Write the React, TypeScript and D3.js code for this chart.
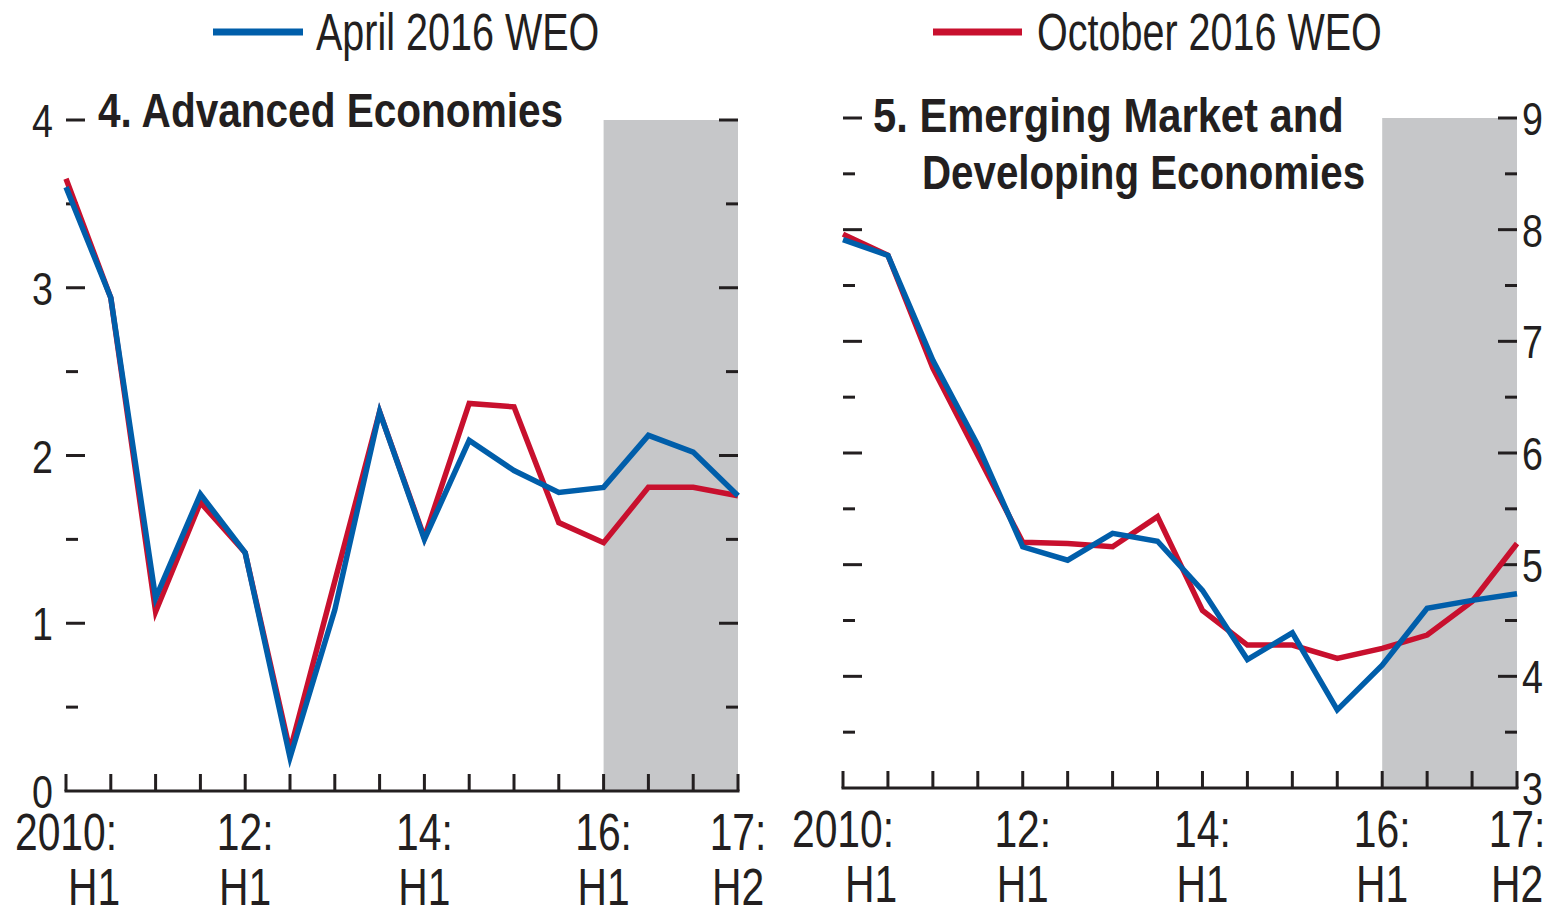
import React from "react";
import * as d3 from "d3";

const periods = [
  "2010:H1", "2010:H2", "2011:H1", "2011:H2", "2012:H1", "2012:H2", "2013:H1", "2013:H2",
  "2014:H1", "2014:H2", "2015:H1", "2015:H2", "2016:H1", "2016:H2", "2017:H1", "2017:H2",
];
const xLabels = [
  { i: 0, year: "2010:", half: "H1" },
  { i: 4, year: "12:", half: "H1" },
  { i: 8, year: "14:", half: "H1" },
  { i: 12, year: "16:", half: "H1" },
  { i: 15, year: "17:", half: "H2" },
];
const projectionStart = 12;

const advApril = [3.6, 2.94, 1.15, 1.77, 1.42, 0.2, 1.08, 2.26, 1.5, 2.09, 1.91, 1.78, 1.81, 2.12, 2.02, 1.76];
const advOctober = [3.65, 2.94, 1.07, 1.72, 1.42, 0.24, 1.25, 2.26, 1.51, 2.31, 2.29, 1.6, 1.48, 1.81, 1.81, 1.76];
const emdeApril = [7.91, 7.77, 6.83, 6.07, 5.16, 5.04, 5.28, 5.21, 4.77, 4.15, 4.39, 3.7, 4.1, 4.61, 4.68, 4.74];
const emdeOctober = [7.96, 7.77, 6.76, 5.98, 5.2, 5.19, 5.16, 5.43, 4.59, 4.28, 4.28, 4.16, 4.25, 4.37, 4.67, 5.19];

const advTicks = [0, 1, 2, 3, 4];
const emdeTicks = [3, 4, 5, 6, 7, 8, 9];

const legendItems = [
  { label: "April 2016 WEO", color: "#005EAA" },
  { label: "October 2016 WEO", color: "#C8102E" },
];

const FONT = "'Liberation Sans', Arial, sans-serif";
const INK = "#231f20";
const BLUE = "#005EAA";
const RED = "#C8102E";
const GRAY = "#C6C7C9";

type NTextProps = {
  x: number;
  y: number;
  size: number;
  anchor?: "start" | "middle" | "end";
  bold?: boolean;
  sx?: number;
  children: React.ReactNode;
};

function NText({ x, y, size, anchor = "start", bold = false, sx = 0.8, children }: NTextProps) {
  return (
    <text
      transform={`translate(${x},${y}) scale(${sx},1)`}
      textAnchor={anchor}
      fontFamily={FONT}
      fontWeight={bold ? "bold" : "normal"}
      fontSize={size}
      fill={INK}
    >
      {children}
    </text>
  );
}

type PanelProps = {
  x0: number;
  x1: number;
  yTop: number;
  yBottom: number;
  domain: [number, number];
  ticks: number[];
  labelSide: "left" | "right";
  april: number[];
  october: number[];
};

function Panel({ x0, x1, yTop, yBottom, domain, ticks, labelSide, april, october }: PanelProps) {
  const x = d3.scaleLinear().domain([0, periods.length - 1]).range([x0, x1]);
  const y = d3.scaleLinear().domain(domain).range([yBottom, yTop]);
  const line = d3
    .line<number>()
    .x((_, i) => x(i))
    .y((d) => y(d));
  const minor: number[] = [];
  for (let v = domain[0] + 0.5; v < domain[1]; v += 1) minor.push(v);
  const majorLen = 19;
  const minorLen = 12;
  return (
    <g>
      <rect
        x={x(projectionStart)}
        y={y(domain[1])}
        width={x(periods.length - 1) - x(projectionStart)}
        height={y(domain[0]) - y(domain[1])}
        fill={GRAY}
      />
      {ticks.map((t) => (
        <g key={"M" + t}>
          {t !== domain[0] && (
            <>
              <line x1={x0} x2={x0 + majorLen} y1={y(t)} y2={y(t)} stroke={INK} strokeWidth={3} />
              <line x1={x1} x2={x1 - majorLen} y1={y(t)} y2={y(t)} stroke={INK} strokeWidth={3} />
            </>
          )}
          <NText
            x={labelSide === "left" ? x0 - 13 : x1 + 5}
            y={y(t) + 17}
            anchor={labelSide === "left" ? "end" : "start"}
            size={47}
          >
            {t}
          </NText>
        </g>
      ))}
      {minor.map((t) => (
        <g key={"m" + t}>
          <line x1={x0} x2={x0 + minorLen} y1={y(t)} y2={y(t)} stroke={INK} strokeWidth={3} />
          <line x1={x1} x2={x1 - minorLen} y1={y(t)} y2={y(t)} stroke={INK} strokeWidth={3} />
        </g>
      ))}
      <line x1={x0 - 1.5} x2={x1 + 1.5} y1={yBottom} y2={yBottom} stroke={INK} strokeWidth={3} />
      {periods.map((p, i) => (
        <line key={p} x1={x(i)} x2={x(i)} y1={yBottom} y2={yBottom - 17} stroke={INK} strokeWidth={3} />
      ))}
      {xLabels.map((l) => (
        <g key={l.year}>
          <NText x={x(l.i)} y={yBottom + 59} anchor="middle" size={51}>
            {l.year}
          </NText>
          <NText x={x(l.i) + (l.i === 0 ? 28 : 0)} y={yBottom + 114} anchor="middle" size={51}>
            {l.half}
          </NText>
        </g>
      ))}
      <path d={line(october) || ""} fill="none" stroke={RED} strokeWidth={5.5} strokeLinejoin="miter" />
      <path d={line(april) || ""} fill="none" stroke={BLUE} strokeWidth={5.5} strokeLinejoin="miter" />
    </g>
  );
}

export default function App() {
  return (
    <svg
      width={1555}
      height={909}
      viewBox="0 0 1555 909"
      style={{ position: "absolute", left: 0, top: 0, background: "#fff" }}
    >
      <rect x={0} y={0} width={1555} height={909} fill="#fff" />
      <line x1={213} x2={303} y1={32} y2={32} stroke={legendItems[0].color} strokeWidth={7} />
      <NText x={316} y={50} size={51} sx={0.775}>
        {legendItems[0].label}
      </NText>
      <line x1={933} x2={1022} y1={32} y2={32} stroke={legendItems[1].color} strokeWidth={7} />
      <NText x={1037} y={50} size={51} sx={0.775}>
        {legendItems[1].label}
      </NText>

      <Panel
        x0={66}
        x1={738}
        yTop={120}
        yBottom={791}
        domain={[0, 4]}
        ticks={advTicks}
        labelSide="left"
        april={advApril}
        october={advOctober}
      />
      <Panel
        x0={843}
        x1={1517}
        yTop={118}
        yBottom={788}
        domain={[3, 9]}
        ticks={emdeTicks}
        labelSide="right"
        april={emdeApril}
        october={emdeOctober}
      />

      <NText x={98} y={127} size={49} bold sx={0.828}>
        4. Advanced Economies
      </NText>
      <NText x={873} y={132} size={49} bold sx={0.852}>
        5. Emerging Market and
      </NText>
      <NText x={922} y={189} size={49} bold sx={0.822}>
        Developing Economies
      </NText>
    </svg>
  );
}
